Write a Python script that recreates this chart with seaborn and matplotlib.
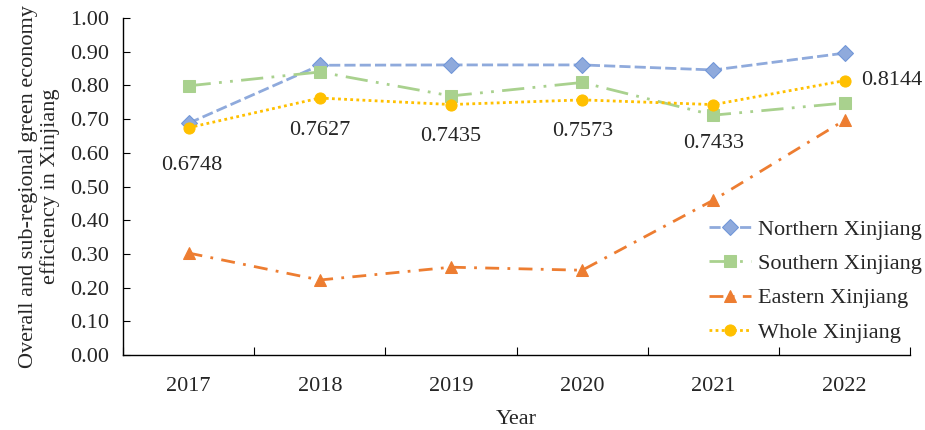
import numpy as np
import pandas as pd
import seaborn as sns
import matplotlib.pyplot as plt

# Chart data
years = ["2017", "2018", "2019", "2020", "2021", "2022"]
northern = [0.688, 0.860, 0.861, 0.861, 0.846, 0.896]
southern = [0.799, 0.840, 0.769, 0.809, 0.712, 0.748]
eastern = [0.303, 0.223, 0.261, 0.252, 0.460, 0.697]
whole = [0.6748, 0.7627, 0.7435, 0.7573, 0.7433, 0.8144]
series_names = ["Northern Xinjiang", "Southern Xinjiang", "Eastern Xinjiang", "Whole Xinjiang"]

sns.set_style("ticks")
plt.rcParams["font.family"] = ["Liberation Serif", "DejaVu Serif"]
plt.rcParams["font.size"] = 16

df = pd.DataFrame({
    "pos": list(range(len(years))) * 4,
    "value": northern + southern + eastern + whole,
    "series": np.repeat(series_names, len(years)),
})

colors = {
    "Northern Xinjiang": "#8faadc",
    "Southern Xinjiang": "#a9d18e",
    "Eastern Xinjiang": "#ed7d31",
    "Whole Xinjiang": "#ffc000",
}
edge_colors = {
    "Northern Xinjiang": "#6f95d8",
    "Southern Xinjiang": "#a9d18e",
    "Eastern Xinjiang": "#ed7d31",
    "Whole Xinjiang": "#ffc000",
}
markers = {
    "Northern Xinjiang": "D",
    "Southern Xinjiang": "s",
    "Eastern Xinjiang": "^",
    "Whole Xinjiang": "o",
}
dashes = {
    "Northern Xinjiang": (4, 1.5),
    "Southern Xinjiang": (8, 3, 1, 3, 1, 3),
    "Eastern Xinjiang": (5, 3, 1, 3),
    "Whole Xinjiang": (1, 1.2),
}

fig = plt.figure(figsize=(9.25, 4.3), dpi=100)
ax = fig.add_axes([0.133, 0.174, 0.851, 0.784])

for name in series_names:
    sub = df[df["series"] == name]
    sns.lineplot(
        data=sub, x="pos", y="value", ax=ax,
        color=colors[name], lw=2.0, marker=markers[name],
        markersize=8, markeredgecolor=edge_colors[name],
        label=name,
    )
    ax.lines[-1].set_dashes(dashes[name])

# value labels for whole Xinjiang
offsets = [(2, -27, "center"), (0, -23, "center"), (0, -23, "center"),
           (0, -23, "center"), (0, -28, "center"), (12, 0, "left")]
for i, v in enumerate(whole):
    dx, dy, ha = offsets[i]
    ax.annotate(f"{v:.4f}", (i, v), xytext=(dx, dy), textcoords="offset points",
                ha=ha, va="center", fontsize=16)

ax.set_xlim(-0.5, len(years) - 0.5)
ax.set_ylim(0, 1.0)
ax.set_yticks(np.arange(0, 1.01, 0.1))
ax.set_yticklabels([f"{t:.2f}" for t in np.arange(0, 1.01, 0.1)])
ax.set_xticks(np.arange(-0.5, len(years), 1.0))
ax.set_xticklabels([])
ax.set_xticks(range(len(years)), minor=True)
ax.set_xticklabels(years, minor=True)
ax.tick_params(axis="x", which="minor", length=0, pad=16)
ax.tick_params(axis="x", which="major", direction="in", length=6, color="black")
ax.tick_params(axis="y", direction="in", length=5, color="black", pad=10)
for s in ["left", "bottom"]:
    ax.spines[s].set_color("black")
    ax.spines[s].set_linewidth(1.0)
sns.despine(ax=ax)

ax.set_xlabel("Year", labelpad=10)
ax.set_ylabel("Overall and sub-regional green economy\nefficiency in Xinjiang", labelpad=7)

ax.legend(loc="upper left", bbox_to_anchor=(0.745, 0.537), bbox_transform=fig.transFigure,
          frameon=False, handlelength=1.9, handletextpad=0.3, labelspacing=0.62,
          fontsize=16)

fig.savefig("out.png", dpi=100)
